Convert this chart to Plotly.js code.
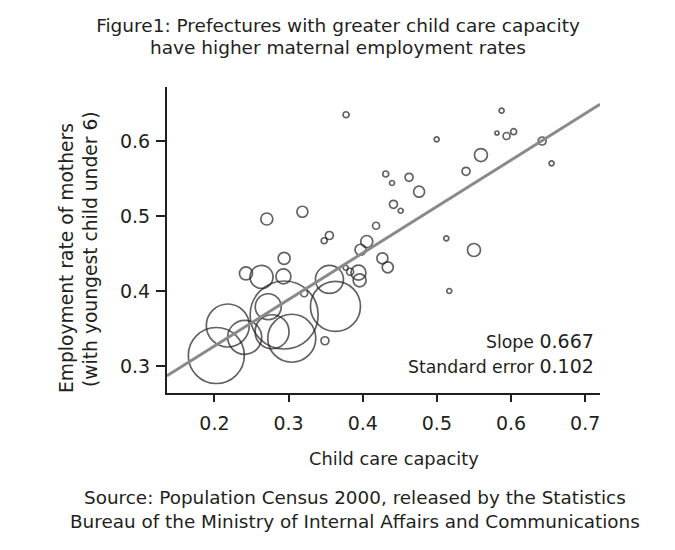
<!DOCTYPE html>
<html>
<head>
<meta charset="utf-8">
<script src="https://cdn.plot.ly/plotly-3.0.1.min.js"></script>
<style>
  html, body { margin: 0; padding: 0; background: #fff; }
  #chart { width: 675px; height: 550px; }
</style>
</head>
<body>
<div id="chart"></div>
<script>
// Child care capacity (x) per prefecture
const capacity = [
  0.3775, 0.431, 0.4395, 0.4414, 0.4512, 0.2706, 0.3186, 0.418, 0.355, 0.348,
  0.4054, 0.397, 0.294, 0.4265, 0.4337, 0.5873, 0.4997, 0.581, 0.594, 0.6035,
  0.642, 0.5594, 0.6547, 0.5393, 0.4625, 0.476, 0.5127, 0.55, 0.5167, 0.2425,
  0.2635, 0.293, 0.3551, 0.377, 0.383, 0.3942, 0.3958, 0.321, 0.294, 0.2725,
  0.3632, 0.218, 0.2408, 0.2777, 0.3043, 0.2025, 0.349
];
// Employment rate of mothers (y)
const employment = [
  0.635, 0.556, 0.544, 0.5156, 0.507, 0.496, 0.5057, 0.487, 0.474, 0.467,
  0.466, 0.455, 0.4436, 0.4436, 0.4316, 0.6404, 0.6023, 0.6107, 0.6067, 0.6124,
  0.600, 0.5813, 0.5703, 0.5596, 0.5516, 0.5324, 0.4703, 0.4547, 0.400, 0.4234,
  0.4188, 0.4195, 0.4155, 0.431, 0.4257, 0.4245, 0.4143, 0.397, 0.368, 0.379,
  0.3795, 0.354, 0.3383, 0.3457, 0.337, 0.314, 0.3337
];
// Bubble size (relative weight of each prefecture)
const weight = [
  6, 6, 5, 8, 5, 12, 11, 7, 8, 6,
  12, 11, 12, 11, 11, 5, 5, 4, 7, 6,
  8, 13, 5, 8, 8, 11, 5, 13, 5, 13,
  23, 15, 28, 5, 7, 15, 13, 7, 68, 26,
  50, 43, 34, 34, 48, 56, 8
];
// Regression line endpoints
const fitX = [0.136, 0.72];
const fitY = [0.287, 0.649];

const xTicks = [0.2, 0.3, 0.4, 0.5, 0.6, 0.7];
const xTickText = ['0.2', '0.3', '0.4', '0.5', '0.6', '0.7'];
const yTicks = [0.3, 0.4, 0.5, 0.6];
const yTickText = ['0.3', '0.4', '0.5', '0.6'];

const titleLines = ['Figure1: Prefectures with greater child care capacity',
                    'have higher maternal employment rates'];
const xTitle = 'Child care capacity';
const yTitleLines = ['Employment rate of mothers', '(with youngest child under 6)'];
const sourceLines = ['Source: Population Census 2000, released by the Statistics',
                     'Bureau of the Ministry of Internal Affairs and Communications'];
const slopeLabel = 'Slope', slopeValue = '0.667';
const seLabel = 'Standard error', seValue = '0.102';

const TXT = '"DejaVu Sans", "Noto Sans", sans-serif';
const INK = '#231f20';

// plot-area pixel geometry helpers (for placing text only)
const L = 167, T = 87, W = 433, H = 306;
const px = v => (v - L) / W;
const py = v => (T + H - v) / H;

const traces = [
  {
    type: 'scatter', mode: 'markers',
    x: capacity, y: employment,
    marker: {
      size: weight, sizemode: 'diameter', sizeref: 1,
      color: 'rgba(0,0,0,0)',
      line: { color: INK, width: 1.7 }
    },
    hoverinfo: 'x+y', showlegend: false, cliponaxis: false
  },
  {
    type: 'scatter', mode: 'lines',
    x: fitX, y: fitY,
    line: { color: '#8a8a8a', width: 3 },
    hoverinfo: 'skip', showlegend: false
  }
];

const numSpan = v => '<span style="font-size:19px">' + v + '</span>';

const annotations = [
  {
    text: titleLines[1], xref: 'paper', yref: 'paper',
    x: px(338), y: py(47.5),
    xanchor: 'center', yanchor: 'middle', showarrow: false,
    font: { family: TXT, size: 18.5, color: INK }
  },
  {
    text: xTitle, xref: 'paper', yref: 'paper',
    x: px(394), y: py(458),
    xanchor: 'center', yanchor: 'middle', showarrow: false,
    font: { family: TXT, size: 17.8, color: INK }
  },
  {
    text: yTitleLines[0], xref: 'paper', yref: 'paper',
    x: px(66), y: py(258),
    xanchor: 'center', yanchor: 'middle', showarrow: false, textangle: -90,
    font: { family: TXT, size: 18.7, color: INK }
  },
  {
    text: yTitleLines[1], xref: 'paper', yref: 'paper',
    x: px(90), y: py(249),
    xanchor: 'center', yanchor: 'middle', showarrow: false, textangle: -90,
    font: { family: TXT, size: 18.7, color: INK }
  },
  {
    text: sourceLines[0], xref: 'paper', yref: 'paper',
    x: px(355), y: py(497),
    xanchor: 'center', yanchor: 'middle', showarrow: false,
    font: { family: TXT, size: 18.4, color: INK }
  },
  {
    text: sourceLines[1], xref: 'paper', yref: 'paper',
    x: px(354.5), y: py(521),
    xanchor: 'center', yanchor: 'middle', showarrow: false,
    font: { family: TXT, size: 18.4, color: INK }
  },
  {
    text: slopeLabel + ' ' + numSpan(slopeValue), xref: 'paper', yref: 'paper',
    x: px(596), y: py(341),
    xanchor: 'right', yanchor: 'middle', align: 'right', showarrow: false,
    font: { family: TXT, size: 17.3, color: INK }
  },
  {
    text: seLabel + ' ' + numSpan(seValue), xref: 'paper', yref: 'paper',
    x: px(596), y: py(366),
    xanchor: 'right', yanchor: 'middle', align: 'right', showarrow: false,
    font: { family: TXT, size: 17.3, color: INK }
  }
];

const layout = {
  width: 675, height: 550,
  margin: { l: L, r: 675 - L - W, t: T, b: 550 - T - H },
  paper_bgcolor: '#fff', plot_bgcolor: '#fff',
  font: { family: TXT, color: INK, size: 18 },
  title: {
    text: titleLines[0],
    font: { family: TXT, size: 18.5, color: INK },
    x: 338 / 675, xanchor: 'center',
    y: 1 - 26 / 550, yanchor: 'middle', yref: 'container'
  },
  xaxis: {
    range: [0.136, 0.72],
    tickvals: xTicks, ticktext: xTickText,
    showline: true, linecolor: INK, linewidth: 2,
    ticks: 'outside', ticklen: 7, tickwidth: 2, tickcolor: INK,
    ticklabelstandoff: 5,
    showgrid: false, zeroline: false,
    tickfont: { family: TXT, size: 19, color: INK },
    fixedrange: true
  },
  yaxis: {
    range: [0.264, 0.672],
    tickvals: yTicks, ticktext: yTickText,
    showline: true, linecolor: INK, linewidth: 2,
    ticks: 'outside', ticklen: 9, tickwidth: 2, tickcolor: INK,
    ticklabelstandoff: 2,
    showgrid: false, zeroline: false,
    tickfont: { family: TXT, size: 19, color: INK },
    fixedrange: true
  },
  annotations: annotations
};

Plotly.newPlot('chart', traces, layout, { displayModeBar: false, staticPlot: true });
</script>
</body>
</html>
